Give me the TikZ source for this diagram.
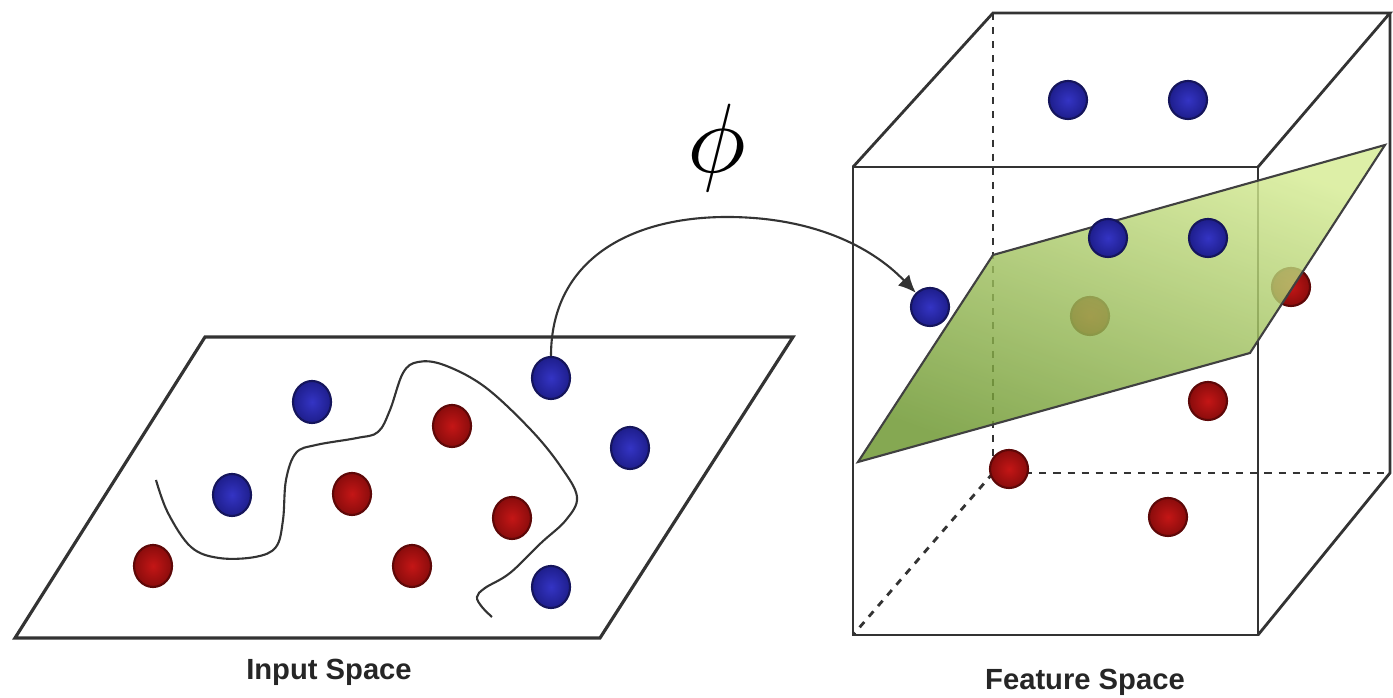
\documentclass[tikz,border=0pt]{standalone}
\usepackage{fontspec}
\newfontfamily\labelfont{Liberation Sans}
\usepackage{tikz}
\usetikzlibrary{arrows.meta,shapes.geometric}
\definecolor{dotblue}{HTML}{3434C4}
\definecolor{dotblueout}{HTML}{1E1E8C}
\definecolor{rimblue}{HTML}{15155C}
\definecolor{dotred}{HTML}{C41616}
\definecolor{dotredout}{HTML}{8A0C0C}
\definecolor{rimred}{HTML}{5E0808}
\definecolor{planetop}{HTML}{D6EC94}
\definecolor{planebot}{HTML}{6A952C}
\definecolor{edge}{HTML}{333333}
\tikzset{
  bdot/.style={ellipse,inner sep=0pt,minimum width=0.38cm,minimum height=0.42cm,
    draw=rimblue,line width=0.6pt,shading=radial,inner color=dotblue,outer color=dotblueout},
  rdot/.style={ellipse,inner sep=0pt,minimum width=0.38cm,minimum height=0.42cm,
    draw=rimred,line width=0.6pt,shading=radial,inner color=dotred,outer color=dotredout},
  cube/.style={bdot,minimum width=0.38cm,minimum height=0.38cm},
  redcube/.style={rdot,minimum width=0.38cm,minimum height=0.38cm},
  frame/.style={edge,line width=0.8pt},
  hidden/.style={edge,line width=0.8pt,dash pattern=on 2pt off 2pt},
  caption/.style={font=\labelfont\bfseries\fontsize{8.3}{10}\selectfont,text=black!85,anchor=base}
}
\begin{document}
\begin{tikzpicture}[x=0.01cm,y=-0.01cm]
\useasboundingbox (0,0) rectangle (1393,698);
% input plane
\draw[frame,line width=0.9pt](205,337)--(793,337)--(600,638)--(15,638)--cycle;
\draw[edge,line width=0.6pt] plot[smooth,tension=0.6] coordinates{(156,480)(168,513)(191,547)(219,558)(255,557)(276,547)(283,520)(286,480)(296,453)(316,445)(357,438)(378,432)(390,410)(403,373)(418,362)(444,365)(485,387)(531,430)(561,467)(577,497)(566,520)(541,543)(510,573)(485,588)(477,597)(482,607)(492,617)};
\node[bdot](b1) at (312,402){};
\node[bdot](b2) at (232,495){};
\node[bdot](b3) at (551,378){};
\node[bdot](b4) at (630,448){};
\node[bdot](b5) at (551,587){};
\node[rdot](r1) at (452,426){};
\node[rdot](r2) at (352,494){};
\node[rdot](r3) at (512,518){};
\node[rdot](r4) at (412,566){};
\node[rdot](r5) at (153,566){};
% cube
\draw[hidden](993,13)--(993,473)--(1390,473);
\draw[hidden](993,473)--(853,635);
\draw[frame](853,167)--(1258,167)--(1258,635)--(853,635)--cycle;
\draw[frame](853,167)--(993,13)--(1390,13)--(1258,167);
\draw[frame](1390,13)--(1390,473)--(1258,635);
% points behind the plane
\node[redcube](fr1) at (1090,316){};
\node[redcube](fr2) at (1291,287){};
% separating plane
\shade[top color=planetop,bottom color=planebot,shading angle=-20,fill opacity=0.82]
  (858,462)--(993,255)--(1385,145)--(1250,353)--cycle;
\draw[black!75,line width=0.6pt](858,462)--(993,255)--(1385,145)--(1250,353)--cycle;
% points in front
\node[cube](fb1) at (1068,100){};
\node[cube](fb2) at (1188,100){};
\node[cube](fb3) at (1108,238){};
\node[cube](fb4) at (1208,238){};
\node[cube](fb5) at (930,307){};
\node[redcube](fr3) at (1208,401){};
\node[redcube](fr4) at (1009,469){};
\node[redcube](fr5) at (1168,517){};
% mapping
\draw[edge,line width=0.6pt,-{Latex[length=5pt,width=4.5pt]}](b3.north)..controls(551,260)and(630,217)..(727,217)
  ..controls(810,217)and(870,245)..(fb5.north west);
\node[scale=2.8](phi) at (717,148){$\phi$};
\node[caption](in) at (329,680){Input Space};
\node[caption](fs) at (1085,690){Feature Space};
\end{tikzpicture}
\end{document}
